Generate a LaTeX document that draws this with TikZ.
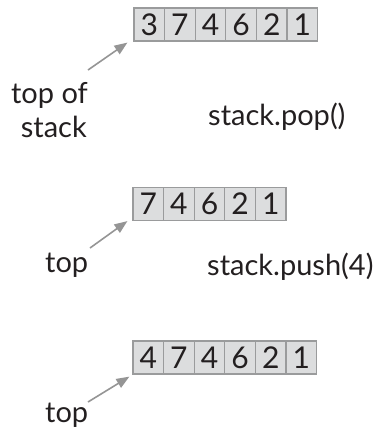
\documentclass[tikz,border=0pt]{standalone}
\usepackage{fontspec}
\setmainfont{Lato}
\usetikzlibrary{arrows.meta}
\definecolor{txt}{HTML}{231F20}
\definecolor{cellfill}{HTML}{DCDDDE}
\definecolor{celldraw}{HTML}{9A9B9C}
\definecolor{arrowc}{HTML}{959595}
\begin{document}
\begin{tikzpicture}[x=1pt,y=-1pt,
  cell/.style={draw=celldraw,fill=cellfill,line width=1.2pt,minimum width=30.6pt,minimum height=33pt,inner sep=0pt,text=txt,font=\fontsize{30}{34}\selectfont,text height=21.5pt,text depth=0pt},
  lbl/.style={text=txt,inner sep=0pt,font=\fontsize{29}{34}\selectfont},
  ptr/.style={draw=arrowc,line width=1.6pt,-{Triangle[length=13pt,width=10pt]}}]
\useasboundingbox (0,0) rectangle (375,429);
% row 1
\foreach \d [count=\i] in {3,7,4,6,2,1}
  \node[cell] (r1c\i) at ({134+15.3+30.6*(\i-1)},24.5) {\d};
% row 2
\foreach \d [count=\i] in {7,4,6,2,1}
  \node[cell] (r2c\i) at ({133+15.3+30.6*(\i-1)},204) {\d};
% row 3
\foreach \d [count=\i] in {4,7,4,6,2,1}
  \node[cell] (r3c\i) at ({133+15.3+30.6*(\i-1)},357.5) {\d};
% labels
\node[lbl,anchor=base east] (lab1a) at (88,103) {top of};
\node[lbl,anchor=base east] (lab1b) at (87,137) {stack};
\node[lbl,anchor=base west] (lab2) at (45,272) {top};
\node[lbl,anchor=base west] (lab3) at (45,422) {top};
\node[lbl,anchor=base west] (op1) at (208,125) {stack.pop()};
\node[lbl,anchor=base west] (op2) at (207,275) {stack.push(4)};
% pointers
\coordinate (t1) at (88,70);
\coordinate (t2) at (90,248);
\coordinate (t3) at (88,402);
\draw[ptr] (t1) -- ([shift={(-6,1)}]r1c1.south west);
\draw[ptr] (t2) -- ([shift={(-5,0)}]r2c1.south west);
\draw[ptr] (t3) -- ([shift={(-3,2)}]r3c1.south west);
\end{tikzpicture}
\end{document}
